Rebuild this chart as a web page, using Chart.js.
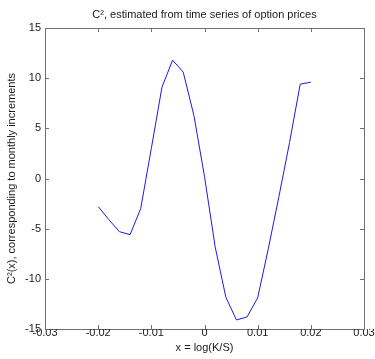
<!DOCTYPE html>
<html>
<head>
<meta charset="utf-8">
<script src="https://cdn.jsdelivr.net/npm/chart.js@4.4.1/dist/chart.umd.min.js"></script>
<style>
  body { margin: 0; background: #fff; }
  canvas { display: block; }
</style>
</head>
<body>
<canvas id="c2Chart" width="375" height="359"></canvas>
<script>
// data
const xValues = [-0.020, -0.018, -0.016, -0.014, -0.012, -0.010, -0.008, -0.006, -0.004, -0.002,
                 0.000, 0.002, 0.004, 0.006, 0.008, 0.010, 0.012, 0.014, 0.016, 0.018, 0.020];
const c2Values = [-2.8, -4.1, -5.3, -5.6, -3.0, 3.0, 9.1, 11.8, 10.6, 6.3,
                  0.2, -6.8, -11.8, -14.1, -13.8, -11.9, -7.0, -1.8, 3.6, 9.4, 9.6];

const xTicks = [-0.03, -0.02, -0.01, 0, 0.01, 0.02, 0.03];
const xTickLabels = ['-0.03', '-0.02', '-0.01', '0', '0.01', '0.02', '0.03'];
const yTicks = [-15, -10, -5, 0, 5, 10, 15];
const yTickLabels = ['-15', '-10', '-5', '0', '5', '10', '15'];

const titleText = 'C\u00B2, estimated from time series of option prices';
const xTitle = 'x = log(K/S)';
const yTitle = 'C\u00B2(x), corresponding to monthly increments';

const frameColor = '#707070';
const textColor = '#1a1a1a';
const baseFont = {family: "'Liberation Sans', Arial, sans-serif", size: 11};

// matlab style inward tick marks on all four sides
const inwardTicks = {
    id: 'inwardTicks',
    afterDatasetsDraw(chart) {
        const ctx = chart.ctx;
        const area = chart.chartArea;
        const len = 4;
        ctx.save();
        ctx.strokeStyle = frameColor;
        ctx.lineWidth = 1;
        ctx.beginPath();
        xTicks.forEach(v => {
            const px = Math.round(chart.scales.x.getPixelForValue(v)) + 0.5;
            ctx.moveTo(px, area.bottom);
            ctx.lineTo(px, area.bottom - len);
            ctx.moveTo(px, area.top);
            ctx.lineTo(px, area.top + len);
        });
        yTicks.forEach(v => {
            const py = Math.round(chart.scales.y.getPixelForValue(v)) + 0.5;
            ctx.moveTo(area.left, py);
            ctx.lineTo(area.left + len, py);
            ctx.moveTo(area.right, py);
            ctx.lineTo(area.right - len, py);
        });
        ctx.stroke();
        ctx.restore();
    }
};

const ctx = document.getElementById('c2Chart').getContext('2d');
const chart = new Chart(ctx, {
    type: 'line',
    data: {
        datasets: [{
            data: xValues.map((x, i) => ({x: x, y: c2Values[i]})),
            borderColor: '#1a1ae0',
            borderWidth: 1,
            pointRadius: 0,
            tension: 0,
            fill: false,
            xAxisID: 'x',
            yAxisID: 'y'
        }]
    },
    options: {
        responsive: false,
        animation: false,
        layout: {padding: 0},
        plugins: {
            legend: {display: false},
            tooltip: {enabled: false}
        },
        scales: {
            x: {
                type: 'linear',
                position: 'bottom',
                min: -0.03,
                max: 0.03,
                afterBuildTicks: s => { s.ticks = xTicks.map(v => ({value: v})); },
                afterFit: s => { s.height = 30; },
                ticks: {
                    padding: -3,
                    maxRotation: 0,
                    color: textColor,
                    font: baseFont,
                    callback: (v, i) => xTickLabels[i]
                },
                grid: {display: true, drawOnChartArea: false, drawTicks: false},
                border: {display: true, color: frameColor, width: 1},
                title: {
                    display: true,
                    text: xTitle,
                    color: textColor,
                    font: baseFont,
                    padding: {top: 0, bottom: 4}
                }
            },
            x2: {
                type: 'linear',
                position: 'top',
                min: -0.03,
                max: 0.03,
                afterFit: s => { s.height = 28; },
                ticks: {display: false},
                grid: {display: true, drawOnChartArea: false, drawTicks: false},
                border: {display: true, color: frameColor, width: 1},
                title: {
                    display: true,
                    text: titleText,
                    color: textColor,
                    font: baseFont,
                    padding: {top: 8, bottom: 0}
                }
            },
            y: {
                type: 'linear',
                position: 'left',
                min: -15,
                max: 15,
                afterBuildTicks: s => { s.ticks = yTicks.map(v => ({value: v})); },
                afterFit: s => { s.width = 45; },
                ticks: {
                    padding: 4,
                    color: textColor,
                    font: baseFont,
                    callback: (v, i) => yTickLabels[i]
                },
                grid: {display: true, drawOnChartArea: false, drawTicks: false},
                border: {display: true, color: frameColor, width: 1},
                title: {
                    display: true,
                    text: yTitle,
                    color: textColor,
                    font: baseFont,
                    padding: {top: 5, bottom: 0}
                }
            },
            y2: {
                type: 'linear',
                position: 'right',
                min: -15,
                max: 15,
                afterFit: s => { s.width = 11; },
                ticks: {display: false},
                grid: {display: true, drawOnChartArea: false, drawTicks: false},
                border: {display: true, color: frameColor, width: 1}
            }
        }
    },
    plugins: [inwardTicks]
});
</script>
</body>
</html>
